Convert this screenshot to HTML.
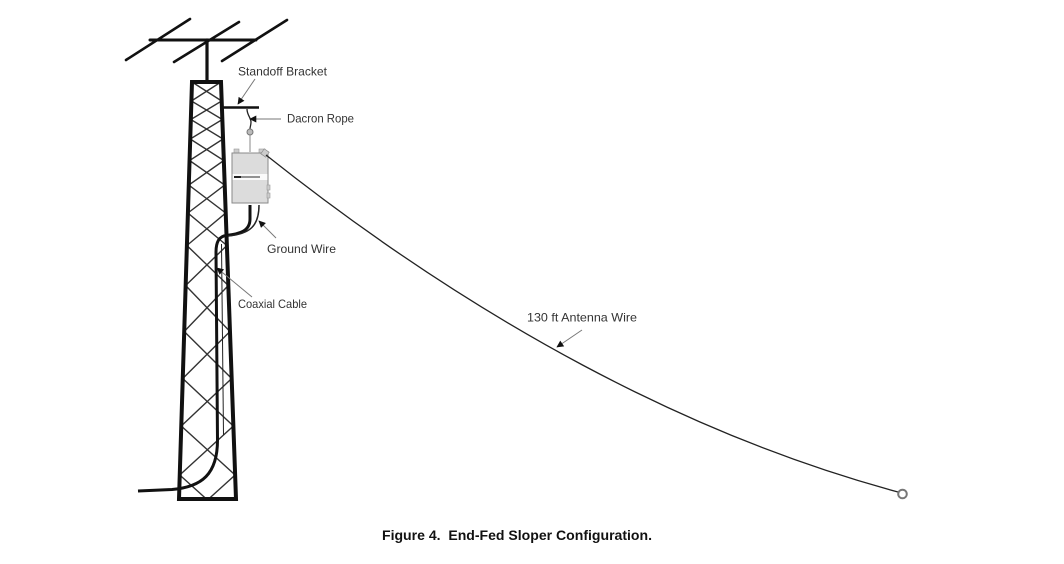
<!DOCTYPE html>
<html>
<head>
<meta charset="utf-8">
<style>
  html, body { margin:0; padding:0; background:#fff; }
  body { width:1064px; height:564px; overflow:hidden; }
  svg { display:block; }
  text { font-family: "Liberation Sans", sans-serif; fill:#333; }
</style>
</head>
<body>
<svg width="1064" height="564" viewBox="0 0 1064 564" xmlns="http://www.w3.org/2000/svg">
  <defs>
    <marker id="ah" viewBox="0 0 10 10" refX="9" refY="5" markerWidth="8" markerHeight="7" markerUnits="userSpaceOnUse" orient="auto">
      <path d="M0,0 L10,5 L0,10 z" fill="#111"/>
    </marker>
  </defs>

  <!-- Yagi antenna -->
  <g stroke="#111" stroke-width="2.6" stroke-linecap="round" fill="none">
    <line x1="126" y1="60" x2="190" y2="19"/>
    <line x1="174" y1="62" x2="239" y2="22"/>
    <line x1="222" y1="61" x2="287" y2="20"/>
    <line x1="150" y1="40" x2="256" y2="40" stroke-width="3"/>
    <line x1="207" y1="40" x2="207" y2="82" stroke-width="3.2"/>
  </g>

  <!-- Tower lattice -->
  <g stroke="#333" stroke-width="1.4" fill="none" stroke-linejoin="miter">
    <polyline points="192,82 221.68,101 190.83,119.5 223.05,139 189.55,160.5 224.70,185 187.92,213 226.88,245.5 185.65,285.5 229.97,331.5 182.76,378.5 233.37,426 179.75,475 207.5,500"/>
    <polyline points="221,82 191.41,101 222.35,119.5 190.22,139 223.82,160.5 188.79,185 225.71,213 186.90,245.5 228.32,285.5 184.22,331.5 231.67,378.5 181.27,426 235.14,475 207.5,500"/>
  </g>
  <!-- Tower outline -->
  <polygon points="192,82 221,82 236,499 179,499" fill="none" stroke="#111" stroke-width="4" stroke-linejoin="miter"/>

  <!-- Standoff bracket -->
  <line x1="221" y1="107.5" x2="259" y2="107.5" stroke="#111" stroke-width="2.5"/>
  <!-- Dacron rope -->
  <path d="M247,109 C247,115 251,118 251,122 C251,125 250,127 250,129" stroke="#222" stroke-width="1.3" fill="none"/>
  <circle cx="250" cy="132" r="3" fill="#bbb" stroke="#777" stroke-width="1"/>
  <line x1="250" y1="135" x2="250" y2="152" stroke="#888" stroke-width="1"/>

  <!-- Box -->
  <rect x="234" y="149" width="5" height="4" fill="#ccc" stroke="#999" stroke-width="0.6"/>
  <rect x="259" y="149" width="6" height="4" fill="#ccc" stroke="#999" stroke-width="0.6"/>
  <rect x="232" y="153" width="36" height="50" fill="#dcdcdc" stroke="#8a8a8a" stroke-width="1"/>
  <rect x="232.5" y="174" width="35" height="6" fill="#fafafa"/>
  <line x1="234" y1="177" x2="260" y2="177" stroke="#555" stroke-width="1.2"/>
  <line x1="234" y1="177" x2="241" y2="177" stroke="#222" stroke-width="2"/>
  <rect x="267" y="185" width="3" height="5" fill="#ccc" stroke="#999" stroke-width="0.6"/>
  <rect x="267" y="193" width="3" height="5" fill="#ccc" stroke="#999" stroke-width="0.6"/>
  <rect x="262" y="150" width="6" height="6" fill="#ccc" stroke="#888" stroke-width="0.7" transform="rotate(35 265 153)"/>

  <!-- Antenna wire -->
  <path d="M266,155 C476,322 690,436 898,492" stroke="#222" stroke-width="1.3" fill="none"/>
  <circle cx="902.5" cy="494" r="4.3" fill="#fff" stroke="#777" stroke-width="2"/>

  <!-- Coax -->
  <path d="M250,205 L250,219 C250,231 240,234 226,235.5 C219,236.5 216,242 216,252 L217.5,440 C217.5,474 202,487 172,489.5 L138,491" stroke="#111" stroke-width="3" fill="none" stroke-linecap="butt"/>
  <line x1="221.5" y1="244" x2="223.5" y2="435" stroke="#222" stroke-width="1"/>
  <!-- Ground wire -->
  <path d="M259,205 C259,226 250,234 228,236" stroke="#222" stroke-width="1.5" fill="none"/>

  <!-- Callout arrows -->
  <g stroke="#777" stroke-width="1" fill="none" marker-end="url(#ah)">
    <line x1="255" y1="79" x2="238" y2="104"/>
    <line x1="281" y1="119" x2="250" y2="119"/>
    <line x1="276" y1="238" x2="259" y2="221"/>
    <line x1="252" y1="297" x2="217" y2="268"/>
    <line x1="582" y1="330" x2="557" y2="347"/>
  </g>

  <!-- Labels -->
  <g font-size="12">
    <text x="238" y="75.5" textLength="89" lengthAdjust="spacingAndGlyphs">Standoff Bracket</text>
    <text x="287" y="122.5" textLength="67" lengthAdjust="spacingAndGlyphs">Dacron Rope</text>
    <text x="267" y="253" textLength="69" lengthAdjust="spacingAndGlyphs">Ground Wire</text>
    <text x="238" y="308" textLength="69" lengthAdjust="spacingAndGlyphs">Coaxial Cable</text>
    <text x="527" y="321.5" textLength="110" lengthAdjust="spacingAndGlyphs">130 ft Antenna Wire</text>
  </g>
  <text x="382" y="540" font-size="14" font-weight="bold" fill="#111" style="fill:#111" textLength="270" lengthAdjust="spacingAndGlyphs" xml:space="preserve">Figure 4.  End-Fed Sloper Configuration.</text>
</svg>
</body>
</html>
